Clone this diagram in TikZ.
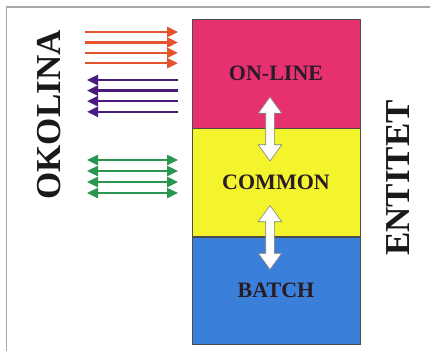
\documentclass[tikz,border=0pt]{standalone}
\usepackage{fontspec}
\setmainfont{Liberation Serif}
\usepackage{tikz}
\usetikzlibrary{arrows.meta,shapes.arrows,positioning}

\definecolor{onlinered}{HTML}{E6306F}
\definecolor{commonyellow}{HTML}{F4F42C}
\definecolor{batchblue}{HTML}{3A7FD9}
\definecolor{flowred}{HTML}{E5532C}
\definecolor{flowpurple}{HTML}{4A1B7C}
\definecolor{flowgreen}{HTML}{2A9650}
\definecolor{framegray}{HTML}{A8A8A8}
\definecolor{labeldark}{HTML}{2A1C26}

\begin{document}
\begin{tikzpicture}[x=1pt,y=-1pt,>={Triangle[length=11pt,width=10pt]},line width=2.4pt,node distance=0pt]
\tikzstyle{layer}=[draw=black!70,line width=0.6pt,minimum width=168pt,text=labeldark,font=\fontsize{22}{22}\selectfont\bfseries]
\tikzstyle{side}=[rotate=90,text=black!90,font=\fontsize{35}{35}\selectfont\bfseries]
\tikzstyle{swap}=[double arrow,draw=black!50,fill=white,line width=0.6pt,rotate=90,minimum height=64pt,inner sep=4pt,double arrow head extend=7.5pt,double arrow tip angle=72]

\useasboundingbox (0,0) rectangle (430,351);
\fill[white] (0,0) rectangle (430,351);

% frame
\coordinate (fl) at (6.5,351);
\coordinate (fc) at (6.5,7);
\coordinate (fr) at (430,7);
\draw[framegray,line width=1.5pt] (fl) -- (fc) -- (fr);

% layers
\node[layer,fill=onlinered,minimum height=109pt] (online) at (276,73.5) {ON-LINE};
\node[layer,fill=commonyellow,minimum height=108pt] (common) [below=of online] {COMMON};
\node[layer,fill=batchblue,minimum height=107pt] (batch) [below=of common] {BATCH};

\node[swap] (up) at (270,129) {};
\node[swap] (down) at (270,237.5) {};

% side labels
\node[side] (okolina) at (49,115) {OKOLINA};
\node[side] (entitet) at (398,178) {ENTITET};

% flows
\foreach \i in {0,...,3} {
  \coordinate (ra\i) at (85,32+10.4*\i);
  \coordinate (rb\i) at (178,32+10.4*\i);
  \coordinate (pa\i) at (178,80+10.6*\i);
  \coordinate (pb\i) at (87,80+10.6*\i);
  \coordinate (ga\i) at (87,160+11*\i);
  \coordinate (gb\i) at (178,160+11*\i);
  \draw[->,flowred] (ra\i) -- (rb\i);
  \draw[->,flowpurple] (pa\i) -- (pb\i);
  \draw[<->,flowgreen] (ga\i) -- (gb\i);
}
\end{tikzpicture}
\end{document}
